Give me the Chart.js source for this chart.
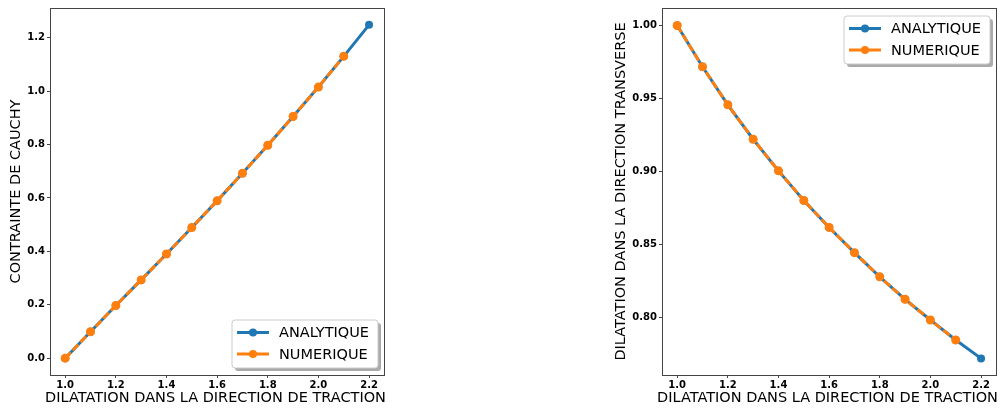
<!DOCTYPE html>
<html>
<head>
<meta charset="utf-8">
<script src="https://cdn.jsdelivr.net/npm/chart.js@4/dist/chart.umd.min.js"></script>
<style>
  body { margin: 0; background: #fff; }
  #wrap { position: relative; width: 1002px; height: 409px; }
  #leftChart { position: absolute; left: 0; top: 0; }
  #rightChart { position: absolute; left: 600px; top: 0; }
</style>
</head>
<body>
<div id="wrap">
  <canvas id="leftChart" width="400" height="409"></canvas>
  <canvas id="rightChart" width="402" height="409"></canvas>
</div>
<script>
// Data
const stretch = [1.0, 1.1, 1.2, 1.3, 1.4, 1.5, 1.6, 1.7, 1.8, 1.9, 2.0, 2.1, 2.2];
const stressAnalytic = [0.0, 0.099, 0.197, 0.293, 0.390, 0.489, 0.589, 0.692, 0.797, 0.905, 1.015, 1.130, 1.248];
const stressNumeric = [0.0, 0.099, 0.197, 0.293, 0.390, 0.489, 0.589, 0.692, 0.797, 0.905, 1.015, 1.130];
const transAnalytic = [1.000, 0.9717, 0.9456, 0.9220, 0.9003, 0.8800, 0.8615, 0.8442, 0.8276, 0.8122, 0.7980, 0.7843, 0.7717];
const transNumeric = [1.000, 0.9717, 0.9456, 0.9220, 0.9003, 0.8800, 0.8615, 0.8442, 0.8276, 0.8122, 0.7980, 0.7843];

const xTicks = [1.0, 1.2, 1.4, 1.6, 1.8, 2.0, 2.2];
const leftYTicks = [0.0, 0.2, 0.4, 0.6, 0.8, 1.0, 1.2];
const rightYTicks = [0.80, 0.85, 0.90, 0.95, 1.00];

const seriesNames = ["ANALYTIQUE", "NUMERIQUE"];
const xTitle = "DILATATION DANS LA DIRECTION DE TRACTION";

const BLUE = "#1f77b4";
const ORANGE = "#ff7f0e";
const FONT = "'DejaVu Sans', sans-serif";

function toPoints(xs, ys) {
  return ys.map((y, i) => ({ x: xs[i], y: y }));
}

// frame around the plot area, x title (not squeezed to the axis width) and legend inside it
const framePlugin = {
  id: "frameLegend",
  afterDraw(chart, args, opts) {
    const { ctx, chartArea } = chart;
    ctx.save();
    ctx.strokeStyle = "#444";
    ctx.lineWidth = 1;
    ctx.strokeRect(chartArea.left + 0.5, chartArea.top + 0.5,
      chartArea.right - chartArea.left - 1, chartArea.bottom - chartArea.top);

    // x axis title
    ctx.fillStyle = "#000";
    ctx.font = "14.5px " + FONT;
    ctx.textAlign = "center";
    ctx.textBaseline = "middle";
    ctx.fillText(xTitle, (chartArea.left + chartArea.right) / 2 - 2, 398);
    ctx.textAlign = "left";

    // legend box
    const w = 146, h = 48;
    const x = chartArea.right - 7 - w;
    const y = opts.corner === "top" ? chartArea.top + 8 : chartArea.bottom - 7 - h;
    ctx.fillStyle = "rgba(100,100,100,0.55)";
    roundRect(ctx, x + 3, y + 3, w, h, 3);
    ctx.fill();
    ctx.fillStyle = "#fff";
    ctx.strokeStyle = "#ccc";
    roundRect(ctx, x, y, w, h, 3);
    ctx.fill();
    ctx.stroke();

    const colors = [BLUE, ORANGE];
    const rows = [y + 12.5, y + 34];
    rows.forEach((ry, i) => {
      ctx.strokeStyle = colors[i];
      ctx.lineWidth = 3;
      ctx.beginPath();
      ctx.moveTo(x + 5, ry);
      ctx.lineTo(x + 37, ry);
      ctx.stroke();
      ctx.fillStyle = colors[i];
      ctx.beginPath();
      ctx.arc(x + 21, ry, 4, 0, Math.PI * 2);
      ctx.fill();
      ctx.fillStyle = "#000";
      ctx.fillText(seriesNames[i], x + 47, ry + 1);
    });
    ctx.restore();
  }
};

function roundRect(ctx, x, y, w, h, r) {
  ctx.beginPath();
  ctx.moveTo(x + r, y);
  ctx.lineTo(x + w - r, y);
  ctx.arcTo(x + w, y, x + w, y + r, r);
  ctx.lineTo(x + w, y + h - r);
  ctx.arcTo(x + w, y + h, x + w - r, y + h, r);
  ctx.lineTo(x + r, y + h);
  ctx.arcTo(x, y + h, x, y + h - r, r);
  ctx.lineTo(x, y + r);
  ctx.arcTo(x, y, x + r, y, r);
  ctx.closePath();
}

function makeChart(canvasId, analytic, numeric, cfg) {
  const ctx = document.getElementById(canvasId).getContext("2d");
  return new Chart(ctx, {
    type: "line",
    data: {
      datasets: [
        {
          label: seriesNames[0],
          data: toPoints(stretch, analytic),
          borderColor: BLUE,
          backgroundColor: BLUE,
          borderWidth: 3,
          pointRadius: 4,
          pointBorderWidth: 0,
          order: 2
        },
        {
          label: seriesNames[1],
          data: toPoints(stretch, numeric),
          borderColor: ORANGE,
          backgroundColor: ORANGE,
          borderWidth: 3,
          borderDash: [8, 3],
          pointRadius: 4.5,
          pointBorderWidth: 0,
          order: 1
        }
      ]
    },
    options: {
      responsive: false,
      animation: false,
      layout: { padding: { top: 5, right: cfg.padRight, left: 0, bottom: 0 } },
      plugins: {
        legend: { display: false },
        tooltip: { enabled: false },
        frameLegend: { corner: cfg.corner }
      },
      scales: {
        x: {
          type: "linear",
          min: 0.94,
          max: 2.263,
          afterBuildTicks: s => { s.ticks = xTicks.map(v => ({ value: v })); },
          afterFit: s => { s.height = 34; },
          grid: { drawOnChartArea: false, drawTicks: true, tickLength: 3, color: "#444" },
          border: { display: false },
          ticks: {
            color: "#000",
            padding: 1.5,
            maxRotation: 0,
            font: { family: FONT, size: 10, weight: "bold" },
            callback: v => v.toFixed(1)
          },
          title: { display: false }
        },
        y: {
          type: "linear",
          min: cfg.yMin,
          max: cfg.yMax,
          afterBuildTicks: s => { s.ticks = cfg.yTicks.map(v => ({ value: v })); },
          afterFit: s => { s.width = cfg.yWidth; },
          grid: { drawOnChartArea: false, drawTicks: true, tickLength: 3, color: "#444" },
          border: { display: false },
          ticks: {
            color: "#000",
            padding: 2,
            font: { family: FONT, size: 10, weight: "bold" },
            callback: v => v.toFixed(cfg.decimals)
          },
          title: {
            display: true,
            text: cfg.yTitle,
            color: "#000",
            padding: { top: cfg.titlePad, bottom: 0 },
            font: { family: FONT, size: 14.5 }
          }
        }
      }
    },
    plugins: [framePlugin]
  });
}

makeChart("leftChart", stressAnalytic, stressNumeric, {
  yMin: -0.063, yMax: 1.311, yTicks: leftYTicks, decimals: 1,
  yWidth: 50, padRight: 15, titlePad: 8, corner: "bottom",
  yTitle: "CONTRAINTE DE CAUCHY"
});

makeChart("rightChart", transAnalytic, transNumeric, {
  yMin: 0.7603, yMax: 1.012, yTicks: rightYTicks, decimals: 2,
  yWidth: 62, padRight: 5, titlePad: 13, corner: "top",
  yTitle: "DILATATION DANS LA DIRECTION TRANSVERSE"
});
</script>
</body>
</html>
